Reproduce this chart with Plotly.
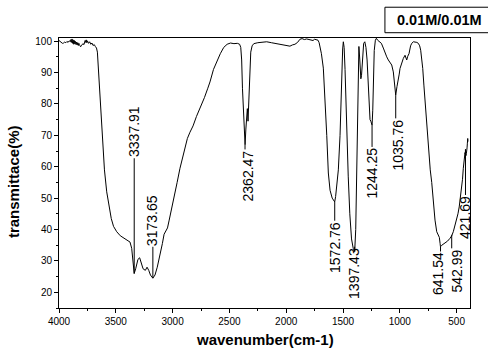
import plotly.graph_objects as go

# ---- spectrum data (wavenumber cm-1, transmittance %) ----
wavenumber = [4000, 3990, 3980, 3970, 3960, 3950, 3940, 3930, 3920, 3910, 3900, 3895, 3890, 3885, 3880,
              3875, 3870, 3865, 3860, 3855, 3850, 3845, 3840, 3835, 3830, 3825, 3820, 3810, 3800, 3790,
              3780, 3770, 3765, 3760, 3755, 3750, 3740, 3730, 3720, 3710, 3700, 3690, 3680, 3670, 3662,
              3656, 3650, 3640, 3624, 3600, 3580, 3560, 3540, 3520, 3492, 3460, 3434, 3400, 3375, 3360,
              3350, 3338, 3325, 3305, 3290, 3275, 3260, 3240, 3225, 3210, 3195, 3174, 3155, 3135, 3111,
              3090, 3075, 3060, 3045, 3030, 3008, 2980, 2960, 2935, 2900, 2870, 2847, 2820, 2790, 2759,
              2720, 2690, 2671, 2640, 2612, 2580, 2550, 2520, 2490, 2460, 2430, 2410, 2400, 2392, 2385,
              2375, 2368, 2362, 2355, 2348, 2342, 2336, 2330, 2322, 2312, 2300, 2285, 2250, 2200, 2172,
              2130, 2100, 2084, 2050, 2020, 1990, 1967, 1945, 1923, 1900, 1879, 1860, 1840, 1820, 1800,
              1780, 1764, 1750, 1735, 1720, 1710, 1703, 1690, 1673, 1658, 1643, 1629, 1614, 1595, 1580,
              1573, 1565, 1555, 1541, 1526, 1518, 1511, 1503, 1497, 1490, 1482, 1468, 1454, 1440, 1425,
              1410, 1397, 1388, 1380, 1373, 1366, 1360, 1352, 1343, 1337, 1328, 1318, 1308, 1298, 1288,
              1278, 1270, 1262, 1255, 1250, 1244, 1238, 1232, 1225, 1215, 1206, 1195, 1180, 1162, 1145,
              1130, 1115, 1101, 1085, 1071, 1057, 1045, 1036, 1025, 1013, 1005, 998, 985, 969, 954,
              939, 930, 919, 905, 895, 880, 866, 850, 837, 825, 816, 807, 798, 788, 778,
              768, 758, 745, 732, 719, 705, 690, 675, 660, 652, 645, 642, 630, 615, 602,
              580, 558, 543, 529, 515, 500, 488, 477, 466, 456, 448, 441, 435, 430, 426,
              423, 422, 418, 414, 411, 408, 405, 402, 400]
transmittance = [100.2, 99.8, 99.6, 99.3, 99.4, 99.7, 99.5, 99.9, 99.6, 100.1, 99.8, 100.5, 99.6, 100.7, 99.3,
                 100.4, 99.0, 100.2, 99.1, 99.9, 98.9, 99.7, 98.8, 99.5, 98.6, 99.3, 98.9, 98.2, 98.7, 99.2,
                 98.9, 100.2, 99.6, 100.4, 99.5, 100.1, 99.3, 99.8, 99.0, 99.4, 98.6, 98.9, 98.3, 97.8, 96.5,
                 92.5, 91.0, 84.0, 71.7, 59.0, 52.0, 47.0, 43.5, 41.0, 39.3, 38.0, 37.3, 36.5, 36.0, 34.0,
                 29.0, 26.0, 27.5, 30.5, 31.0, 29.5, 27.5, 27.0, 28.0, 27.0, 25.5, 24.5, 25.5, 28.0, 31.5,
                 35.5, 38.5, 39.5, 40.5, 43.0, 46.5, 51.0, 55.0, 59.5, 65.0, 69.0, 71.0, 73.0, 76.0, 78.5,
                 82.0, 85.0, 87.0, 91.0, 93.5, 96.0, 98.0, 99.0, 99.4, 99.2, 99.3, 99.0, 98.0, 94.0, 85.0,
                 74.0, 69.0, 67.0, 72.0, 76.0, 78.5, 74.5, 80.0, 90.0, 96.5, 98.5, 99.2, 99.5, 99.7, 99.8,
                 99.5, 99.3, 99.1, 99.0, 98.8, 98.6, 98.4, 98.8, 99.0, 99.6, 100.6, 100.8, 100.5, 100.7, 100.6,
                 100.4, 100.2, 100.6, 100.5, 100.3, 99.5, 98.5, 96.0, 91.4, 82.0, 70.0, 58.0, 52.5, 50.0, 49.2,
                 48.8, 50.5, 53.6, 59.0, 70.0, 82.0, 91.4, 97.5, 99.8, 98.0, 91.0, 70.0, 57.0, 45.0, 37.0,
                 34.0, 33.0, 40.0, 60.0, 82.0, 97.0, 98.3, 94.0, 88.0, 89.0, 95.0, 99.3, 99.8, 98.0, 94.0,
                 86.0, 78.0, 75.0, 74.5, 73.7, 73.2, 78.0, 88.0, 97.0, 100.3, 100.9, 100.3, 99.8, 99.3, 97.8,
                 96.0, 95.0, 94.0, 93.2, 92.4, 90.2, 86.5, 82.8, 85.5, 87.5, 89.5, 91.3, 93.0, 94.5, 95.5,
                 94.0, 95.2, 96.0, 98.5, 99.3, 99.8, 99.8, 99.6, 99.3, 98.5, 97.1, 94.5, 91.3, 86.0, 80.7,
                 75.5, 70.0, 64.0, 59.0, 55.0, 48.4, 43.0, 39.3, 38.0, 37.5, 35.5, 34.5, 35.0, 35.4, 35.6,
                 36.3, 37.2, 38.0, 39.3, 41.0, 43.0, 45.0, 47.2, 50.0, 52.5, 56.0, 59.5, 62.5, 64.0, 64.5,
                 64.0, 65.5, 63.5, 64.2, 64.7, 66.0, 67.5, 69.0, 68.0]

# ---- peak labels ----
peak_wn = [3337.91, 3173.65, 2362.47, 1572.76, 1397.43, 1244.25, 1035.76, 641.54, 542.99, 421.69]
peak_curve = [26.0, 24.5, 67.0, 48.8, 33.0, 73.2, 82.8, 34.5, 38.3, 65.5]
peak_text = ["3337.91", "3173.65", "2362.47", "1572.76", "1397.43", "1244.25", "1035.76",
             "641.54", "542.99", "421.69"]

# label placement (layout): where the text starts, side, horizontal pixel shift
label_edge = [62.7, 34.5, 65.5, 42.8, 34.5, 66.3, 75.4, 33.0, 34.0, 51.0]
label_side = ["above", "above", "below", "below", "below", "below", "below", "below", "below", "below"]
label_shift = [0, -1, 2.5, 0, 0, 0, 2, -2.5, 5, 0]

legend_text = "0.01M/0.01M"
x_title = "wavenumber(cm-1)"
y_title = "transmittace(%)"

FONT = "Liberation Sans, Arial, sans-serif"

fig = go.Figure()
fig.add_trace(go.Scatter(x=wavenumber, y=transmittance, mode="lines",
                         line=dict(color="black", width=1), showlegend=False,
                         hoverinfo="skip"))

annotations = []
shapes = []
for wn, yc, txt, edge, side, sh in zip(peak_wn, peak_curve, peak_text, label_edge, label_side, label_shift):
    if abs(yc - edge) > 0.3:
        shapes.append(dict(type="line", xref="x", yref="y", x0=wn, x1=wn, y0=yc, y1=edge,
                           line=dict(color="black", width=1)))
    annotations.append(dict(x=wn, y=edge, xref="x", yref="y", text=txt, showarrow=False,
                            textangle=-90, xanchor="center",
                            yanchor="bottom" if side == "above" else "top",
                            xshift=sh, borderpad=0,
                            font=dict(family=FONT, size=14, color="black")))

# axis titles
annotations.append(dict(x=0.5, y=-0.1185, xref="paper", yref="paper", text="<b>%s</b>" % x_title,
                        showarrow=False, xanchor="center", yanchor="middle",
                        font=dict(family=FONT, size=15, color="black")))
annotations.append(dict(x=-0.112, y=0.47, xref="paper", yref="paper", text="<b>%s</b>" % y_title,
                        showarrow=False, xanchor="center", yanchor="middle", textangle=-90,
                        font=dict(family=FONT, size=15, color="black")))
# legend box
shapes.append(dict(type="rect", xref="paper", yref="paper", x0=0.793, x1=1.06, y0=1.0196, y1=1.114,
                   line=dict(color="black", width=1), fillcolor="white", layer="above"))
annotations.append(dict(x=0.926, y=1.067, xref="paper", yref="paper", text="<b>%s</b>" % legend_text,
                        showarrow=False, xanchor="center", yanchor="middle",
                        font=dict(family=FONT, size=14.5, color="black")))

axis_common = dict(showline=True, linecolor="black", linewidth=1, mirror=True,
                   ticks="outside", ticklen=4, tickwidth=1, tickcolor="black",
                   showgrid=False, zeroline=False,
                   tickfont=dict(family=FONT, size=10, color="black"))

fig.update_layout(
    width=488, height=348,
    margin=dict(l=59, r=18, t=38, b=40),
    paper_bgcolor="white", plot_bgcolor="white",
    xaxis=dict(range=[4000, 382], tick0=0, dtick=500,
               minor=dict(ticks="outside", ticklen=2, dtick=250, tickcolor="black", showgrid=False),
               **axis_common),
    yaxis=dict(range=[15, 101], tick0=0, dtick=10,
               minor=dict(ticks="outside", ticklen=2, dtick=5, tickcolor="black", showgrid=False),
               **axis_common),
    annotations=annotations, shapes=shapes, showlegend=False,
)

fig.write_html("out.html")
